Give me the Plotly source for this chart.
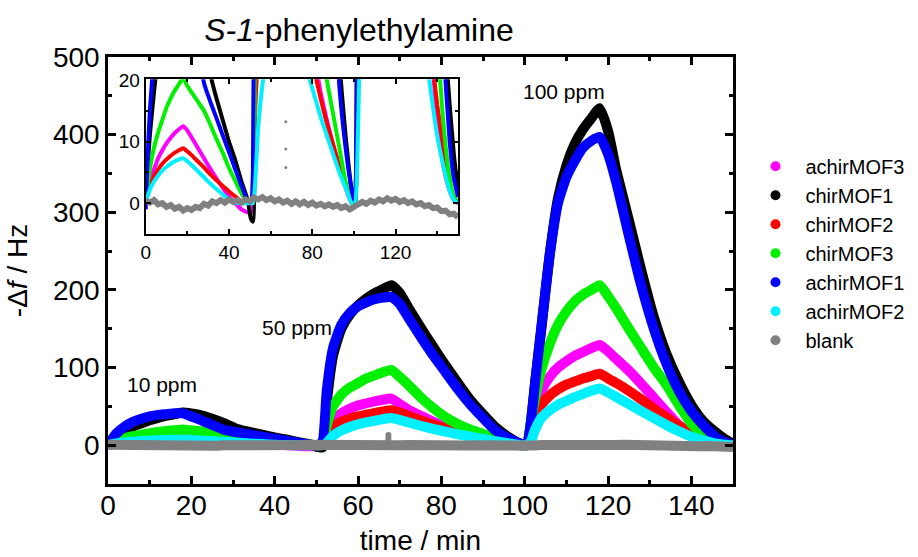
import plotly.graph_objects as go

# ---------------- data ----------------
time_min = [0, 1, 2, 4, 6, 8, 10, 12, 14, 16, 18, 20, 22, 25, 28, 31, 34, 37, 40, 43,
            46, 49, 50.5, 51.5, 52.5, 54, 56, 58, 60, 62, 64, 66, 68, 70, 72, 75, 78, 81, 84, 87,
            90, 93, 96, 99, 100.5, 101.5, 102.5, 104, 106, 108, 110, 112, 114, 116, 118, 120, 122, 125, 128, 131,
            134, 137, 140, 143, 146, 148, 150]

achirMOF3 = [0, 2, 3.5, 5.5, 7.3, 8.6, 9.7, 10.6, 11.4, 12, 12.5, 11.8, 10.7, 9, 7.3, 5.6, 4, 2.5, 1.1, 0, -1, -1.5,
             -1.5, 0, 18, 32, 41, 47, 51, 54, 56.5, 58.5, 60, 53, 46, 38, 30.5, 24, 18, 13.5, 9.5, 6, 2.5, 0,
             0, 20, 45, 70, 88, 100, 108, 115, 120, 125, 129, 121, 111, 96, 79, 61, 43, 26, 14, 6, 2, 0.5, 0]

chirMOF1 = [0, 6, 11, 18, 24, 28, 32, 35, 38, 40, 42, 41, 39, 34, 28, 21, 17, 13.5, 10, 7, 3.5, 0.5,
            -2.5, -3, 55, 115, 150, 168, 180, 189, 196, 201, 206, 196, 178, 152, 127, 103, 80, 58, 40, 23, 11, 2,
            0, 30, 80, 150, 245, 318, 360, 388, 407, 421, 434, 405, 354, 290, 225, 165, 118, 82, 52, 30, 16, 8, 2]

chirMOF2 = [0, 1.5, 2.7, 4.3, 5.5, 6.4, 7.1, 7.7, 8.2, 8.6, 8.9, 8.4, 7.8, 6.8, 5.8, 4.7, 3.7, 2.8, 1.9, 1.1, 0.3, 0,
            0, 0, 14, 24, 30, 34, 37, 39.5, 41.5, 43.5, 45, 42, 38, 32, 26.5, 21.5, 17, 13, 9.5, 6, 3, 0,
            0, 15, 35, 52, 64, 72, 78, 82, 86, 89, 92, 86, 80, 70, 59, 47, 36, 25, 16, 9, 3, 1, 0]

chirMOF3 = [0, 3, 5.5, 9, 11.5, 13.5, 15.5, 17, 18.3, 19.3, 20.3, 19, 18, 16.5, 15, 12.8, 10.4, 8.2, 5.7, 3.6, 1.6, 0.3,
            0, 0.5, 25, 50, 65, 74, 80, 86, 90, 94, 97, 88, 78, 62, 48, 36, 27, 20, 14.5, 9, 3.5, 0,
            0, 30, 60, 97, 130, 155, 172, 185, 194, 200, 206, 192, 176, 150, 125, 100, 78, 52, 28, 13, 4, 1, 0]

achirMOF1 = [-1, 8, 15, 24, 30, 34, 37, 39, 40, 41, 41, 37, 33, 26, 19.5, 16.5, 13.8, 11, 8.3, 5.5, 2.8, 0.3,
             0, 5, 70, 125, 155, 170, 179, 184, 188, 190, 191, 182, 165, 140, 116, 94, 72, 52, 35, 19, 9, 2,
             0, 30, 80, 152, 245, 312, 345, 366, 383, 392, 397, 375, 338, 270, 205, 150, 105, 70, 44, 25, 10, 4, 1]

achirMOF2 = [0, 1.2, 2.2, 3.5, 4.5, 5.3, 5.9, 6.4, 6.8, 7.1, 7.3, 6.8, 6.2, 5.2, 4.2, 3.2, 2.3, 1.4, 0.6, 0.1, 0, 0,
             0, 0, 3, 12, 19, 23.5, 27, 29.5, 31.5, 33.5, 35, 32.5, 29.5, 25, 21, 17.5, 14, 11, 8, 5, 2.5, 0,
             0, 5, 20, 35, 45, 52, 57, 62, 66, 70, 73, 68, 62, 53, 44, 35, 26, 18, 11, 6, 2, 0.5, 0]

blank_time = [0, 2, 4, 6, 8, 10, 12, 14, 16, 18, 20, 22, 24, 26, 28, 30, 32, 34, 36, 38,
              40, 42, 44, 46, 48, 50, 52, 54, 56, 58, 60, 62, 64, 66, 68, 70, 72, 74, 76, 78,
              80, 82, 84, 86, 88, 90, 92, 94, 96, 98, 100, 102, 104, 106, 108, 110, 112, 114, 116, 118,
              120, 122, 124, 126, 128, 130, 132, 134, 136, 138, 140, 142, 144, 146, 148, 150]
blank = [0.4, 0.1, 0.5, -0.2, 0.0, -0.6, -0.3, -0.9, -0.6, -1.2, -0.8, -1.1, -0.6, -0.8, -0.1, -0.4, 0.3, 0.0, 0.5, 0.1,
         0.6, 0.2, 0.5, 0.1, 0.6, 0.3, 0.9, 0.6, 1.0, 0.5, 0.8, 0.3, 0.6, 0.1, 0.4, -0.1, 0.3, -0.2, 0.2, -0.3,
         0.1, -0.4, -0.1, -0.5, -0.2, -0.6, -0.3, -0.8, -0.5, -1.0, -0.6, -0.3, 0.2, -0.1, 0.4, 0.1, 0.6, 0.3, 0.8, 0.4,
         0.7, 0.2, 0.5, 0.0, 0.3, -0.2, 0.0, -0.5, -0.3, -0.8, -0.7, -1.3, -1.2, -1.8, -1.7, -2.3]
blank_spike_time = [67.3, 67.3, 67.3]
blank_spike = [13.2, 8.8, 5.8]

series_names = ["achirMOF3", "chirMOF1", "chirMOF2", "chirMOF3", "achirMOF1", "achirMOF2", "blank"]
series_colors = ["#FF00FF", "#000000", "#FF0000", "#00F000", "#0000FF", "#00F0FF", "#808080"]

ppm_labels = ["10 ppm", "50 ppm", "100 ppm"]
ppm_label_x = [12.9, 45.4, 109.4]
ppm_label_y = [78.6, 152, 456]

title_text = "<i>S-1</i>-phenylethylamine"
x_title = "time / min"
y_title = "-Δ<i>f</i> / Hz"

# ---------------- figure ----------------
FONT = "Arial, Liberation Sans, sans-serif"
series_values = [achirMOF3, chirMOF1, chirMOF2, chirMOF3, achirMOF1, achirMOF2]

fig = go.Figure()

for axes, width, bwidth, msize in ((("x", "y"), 10, 10, 6), (("x2", "y2"), 4, 6, 3)):
    for name, vals, col in zip(series_names[:6], series_values, series_colors[:6]):
        fig.add_trace(go.Scatter(x=time_min, y=vals, mode="lines", xaxis=axes[0], yaxis=axes[1],
                                 line=dict(color=col, width=width, shape="spline", smoothing=0.5),
                                 showlegend=False, hoverinfo="skip"))
    fig.add_trace(go.Scatter(x=blank_time, y=blank, mode="lines", xaxis=axes[0], yaxis=axes[1],
                             line=dict(color=series_colors[6], width=bwidth),
                             showlegend=False, hoverinfo="skip"))
    fig.add_trace(go.Scatter(x=blank_spike_time, y=blank_spike, mode="markers", xaxis=axes[0], yaxis=axes[1],
                             marker=dict(color=series_colors[6], size=msize),
                             showlegend=False, hoverinfo="skip"))

# legend-only entries
for name, col in zip(series_names, series_colors):
    fig.add_trace(go.Scatter(x=[None], y=[None], mode="markers", name=name,
                             marker=dict(color=col, size=10)))

for txt, lx, ly in zip(ppm_labels, ppm_label_x, ppm_label_y):
    fig.add_annotation(x=lx, y=ly, xref="x", yref="y", text=txt, showarrow=False,
                       font=dict(size=21, family=FONT, color="black"))

axis_common = dict(showline=True, linecolor="black", mirror="ticks", showgrid=False,
                   zeroline=False, ticks="inside", tickcolor="black", automargin=False)

fig.update_layout(
    width=918, height=557,
    margin=dict(l=108, r=185, t=57, b=73, autoexpand=False),
    plot_bgcolor="white", paper_bgcolor="white",
    font=dict(family=FONT, color="black"),
    title=dict(text=title_text, x=0.4016, xref="paper", xanchor="center",
               y=1 - 30 / 557, yref="container", yanchor="middle",
               font=dict(size=32, family=FONT, color="black")),
    xaxis=dict(domain=[0, 1], range=[0, 150], tick0=0, dtick=20, ticklen=8, tickwidth=2.5,
               linewidth=2.5, tickfont=dict(size=28), ticklabelstandoff=-5,
               title=dict(text=x_title, font=dict(size=28), standoff=11),
               minor=dict(ticks="inside", dtick=10, ticklen=4, tickwidth=2.5, showgrid=False),
               **axis_common),
    yaxis=dict(domain=[0, 1], range=[-50, 500], tick0=0, dtick=100, ticklen=8, tickwidth=2.5,
               linewidth=2.5, tickfont=dict(size=28),
               title=dict(text=y_title, font=dict(size=28), standoff=18),
               minor=dict(ticks="inside", dtick=50, ticklen=4, tickwidth=2.5, showgrid=False),
               **axis_common),
    xaxis2=dict(domain=[0.0603, 0.56], anchor="y2", range=[0, 150], tick0=0, dtick=40,
                ticklen=5, tickwidth=1.8, linewidth=2.2, tickfont=dict(size=19),
                minor=dict(ticks="inside", dtick=20, ticklen=3, tickwidth=1.5, showgrid=False),
                **axis_common),
    yaxis2=dict(domain=[0.5855, 0.9478], anchor="x2", range=[-5, 20.1], tick0=0, dtick=10,
                ticklen=5, tickwidth=1.8, linewidth=2.2, tickfont=dict(size=19),
                minor=dict(ticks="inside", dtick=5, ticklen=3, tickwidth=1.5, showgrid=False),
                **axis_common),
    legend=dict(x=1.02, xanchor="left", y=0.79, yanchor="top", font=dict(size=20),
                itemwidth=50, bgcolor="rgba(0,0,0,0)", tracegroupgap=0),
)

fig.write_html("out.html")
